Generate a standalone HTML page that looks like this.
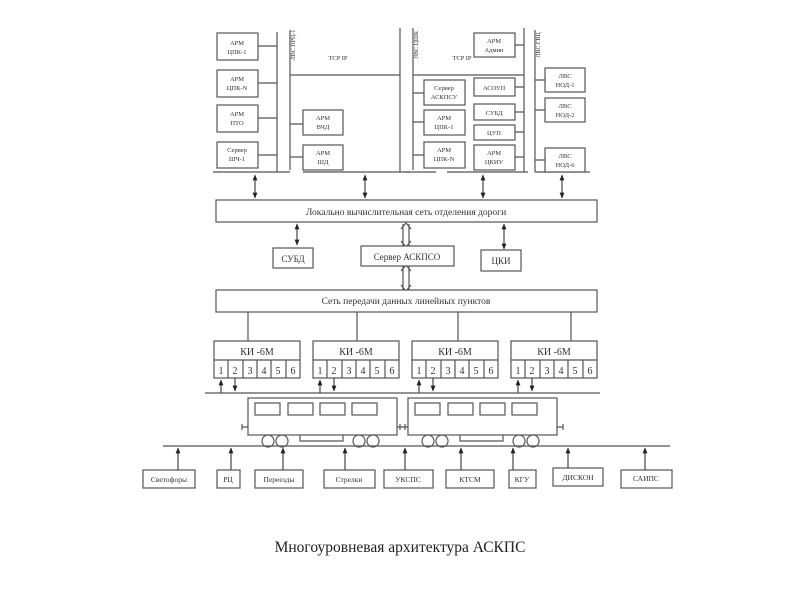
<!DOCTYPE html>
<html><head><meta charset="utf-8"><style>
html,body{margin:0;padding:0;background:#fff;width:800px;height:600px;overflow:hidden}
svg{display:block}
text{font-family:"Liberation Serif",serif;fill:#333}
.b{fill:#fff;stroke:#555;stroke-width:1.2}
.l{stroke:#555;stroke-width:1.2;fill:none}
</style></head><body>
<svg width="800" height="600" viewBox="0 0 800 600">
<defs>
<marker id="a" viewBox="0 0 10 10" refX="9" refY="5" markerWidth="6" markerHeight="6" orient="auto-start-reverse"><path d="M0,1L10,5L0,9z" fill="#222"/></marker>
</defs>
<g font-size="6.5" text-anchor="middle">
<rect class="b" x="217" y="33" width="41" height="27"/><text x="237" y="45">АРМ</text><text x="237" y="54">ЦПК-1</text>
<rect class="b" x="217" y="70" width="41" height="27"/><text x="237" y="81">АРМ</text><text x="237" y="90">ЦПК-N</text>
<rect class="b" x="217" y="105" width="41" height="27"/><text x="237" y="116">АРМ</text><text x="237" y="125">ПТО</text>
<rect class="b" x="217" y="142" width="41" height="26"/><text x="237" y="152">Сервер</text><text x="237" y="161">ШЧ-1</text>
<path class="l" d="M277,32V172M258,46H277M258,83H277M258,118H277M258,155H277"/>
<path class="l" d="M290,30V170M290,75H400M400,28V172M290,124H303M290,157H303"/>
<text x="295" y="45" transform="rotate(-90 295 45)" font-size="6">ЛВС ПРЦ-1</text>
<text x="338" y="60">TCP IP</text>
<rect class="b" x="303" y="110" width="40" height="25"/><text x="323" y="120">АРМ</text><text x="323" y="129">ВЧД</text>
<rect class="b" x="303" y="145" width="40" height="25"/><text x="323" y="155">АРМ</text><text x="323" y="164">ШД</text>
<path class="l" d="M213,172H290M303,172H410"/>
<path class="l" d="M413,28V170M413,75H524M524,28V172M413,93H424M413,122H424M413,155H424M515,45H524M515,87H524M515,112H524M515,132H524M515,157H524"/>
<text x="418" y="45" transform="rotate(-90 418 45)" font-size="6">ЛВС ЦШК</text>
<text x="462" y="60">TCP IP</text>
<rect class="b" x="474" y="33" width="41" height="24"/><text x="494" y="43">АРМ</text><text x="494" y="52">Админ</text>
<rect class="b" x="424" y="80" width="41" height="25"/><text x="444" y="90">Сервер</text><text x="444" y="99">АСКПСУ</text>
<rect class="b" x="424" y="110" width="41" height="25"/><text x="444" y="120">АРМ</text><text x="444" y="129">ЦПК-1</text>
<rect class="b" x="424" y="142" width="41" height="26"/><text x="444" y="152">АРМ</text><text x="444" y="161">ЦПК-N</text>
<rect class="b" x="474" y="78" width="41" height="18"/><text x="494" y="90">АСОУП</text>
<rect class="b" x="474" y="104" width="41" height="16"/><text x="494" y="115">СУБД</text>
<rect class="b" x="474" y="125" width="41" height="15"/><text x="494" y="135">ЦУП</text>
<rect class="b" x="474" y="145" width="41" height="25"/><text x="494" y="155">АРМ</text><text x="494" y="164">ЦКИУ</text>
<path class="l" d="M405,172H436M447,172H528"/>
<path class="l" d="M535,30V172M535,80H545M535,110H545M535,160H545M535,172H590"/>
<text x="540" y="45" transform="rotate(-90 540 45)" font-size="6">ЛВС ГВЦ</text>
<rect class="b" x="545" y="68" width="40" height="24"/><text x="565" y="78">ЛВС</text><text x="565" y="87">НОД-1</text>
<rect class="b" x="545" y="98" width="40" height="24"/><text x="565" y="108">ЛВС</text><text x="565" y="117">НОД-2</text>
<rect class="b" x="545" y="148" width="40" height="24"/><text x="565" y="158">ЛВС</text><text x="565" y="167">НОД-6</text>
</g>
<g stroke="#222" stroke-width="1">
<path d="M255,175V198" marker-start="url(#a)" marker-end="url(#a)"/>
<path d="M365,175V198" marker-start="url(#a)" marker-end="url(#a)"/>
<path d="M483,175V198" marker-start="url(#a)" marker-end="url(#a)"/>
<path d="M562,175V198" marker-start="url(#a)" marker-end="url(#a)"/>
</g>
<rect class="b" x="216" y="200" width="381" height="22"/>
<text x="406" y="215" font-size="9.5" text-anchor="middle">Локально вычислительная сеть отделения дороги</text>
<path d="M297,224V245" stroke="#222" marker-start="url(#a)" marker-end="url(#a)"/>
<path d="M504,224V249" stroke="#222" marker-start="url(#a)" marker-end="url(#a)"/>
<path class="l" d="M403,224V246M409,224V246M403,266V290M409,266V290M401,229L406,223L411,229M401,241L406,247L411,241M401,271L406,265L411,271M401,285L406,291L411,285"/>
<rect class="b" x="273" y="248" width="40" height="20"/><text x="293" y="262" font-size="9" text-anchor="middle">СУБД</text>
<rect class="b" x="361" y="246" width="93" height="20"/><text x="407" y="260" font-size="9" text-anchor="middle">Сервер АСКПСО</text>
<rect class="b" x="481" y="250" width="40" height="21"/><text x="501" y="264" font-size="9" text-anchor="middle">ЦКИ</text>
<rect class="b" x="216" y="290" width="381" height="22"/>
<text x="406" y="304" font-size="9.5" text-anchor="middle">Сеть передачи данных линейных пунктов</text>
<path class="l" d="M248,312V341M357,312V341M458,312V341M571,312V341"/>
<g font-size="10" text-anchor="middle">
<g id="k"><rect class="b" x="214" y="341" width="86" height="37"/><path class="l" d="M214,360H300M228,360V378M243,360V378M257,360V378M271,360V378M286,360V378"/>
<text x="257" y="355">КИ -6М</text><text x="221" y="374">1</text><text x="235" y="374">2</text><text x="250" y="374">3</text><text x="264" y="374">4</text><text x="278" y="374">5</text><text x="293" y="374">6</text>
<path d="M221,393V380" stroke="#222" marker-end="url(#a)"/><path d="M235,378V391" stroke="#222" marker-end="url(#a)"/></g>
<use href="#k" x="99"/><use href="#k" x="198"/><use href="#k" x="297"/>
</g>
<path class="l" d="M205,393H600"/>
<g id="c"><rect class="b" x="248" y="398" width="149" height="37"/>
<rect class="b" x="255" y="403" width="25" height="12"/><rect class="b" x="288" y="403" width="25" height="12"/><rect class="b" x="320" y="403" width="25" height="12"/><rect class="b" x="352" y="403" width="25" height="12"/>
<circle class="b" cx="268" cy="441" r="6"/><circle class="b" cx="282" cy="441" r="6"/><circle class="b" cx="359" cy="441" r="6"/><circle class="b" cx="373" cy="441" r="6"/>
<path class="l" d="M300,435V441H343V435"/></g>
<use href="#c" x="160"/>
<path class="l" d="M242,427H248M242,424V430M397,427H408M400,424V430M405,424V430M557,427H563M563,424V430"/>
<path class="l" d="M163,446H670"/>
<g font-size="7.5" text-anchor="middle">
<rect class="b" x="143" y="470" width="52" height="18"/><text x="169" y="482">Светофоры</text>
<rect class="b" x="217" y="470" width="23" height="18"/><text x="228" y="482">РЦ</text>
<rect class="b" x="255" y="470" width="48" height="18"/><text x="279" y="482">Переезды</text>
<rect class="b" x="324" y="470" width="51" height="18"/><text x="349" y="482">Стрелки</text>
<rect class="b" x="384" y="470" width="49" height="18"/><text x="408" y="482">УКСПС</text>
<rect class="b" x="446" y="470" width="48" height="18"/><text x="470" y="482">КТСМ</text>
<rect class="b" x="509" y="470" width="27" height="18"/><text x="522" y="482">КГУ</text>
<rect class="b" x="553" y="468" width="50" height="18"/><text x="578" y="480">ДИСКОН</text>
<rect class="b" x="621" y="470" width="51" height="18"/><text x="646" y="481">САИПС</text>
</g>
<g stroke="#222">
<path d="M178,470V448" marker-end="url(#a)"/><path d="M231,470V448" marker-end="url(#a)"/><path d="M283,470V448" marker-end="url(#a)"/><path d="M345,470V448" marker-end="url(#a)"/><path d="M405,470V448" marker-end="url(#a)"/><path d="M461,470V448" marker-end="url(#a)"/><path d="M513,470V448" marker-end="url(#a)"/><path d="M568,468V448" marker-end="url(#a)"/><path d="M645,470V448" marker-end="url(#a)"/>
</g>
<text x="400" y="552" font-size="15.5" text-anchor="middle" style="fill:#222">Многоуровневая архитектура АСКПС</text>
</svg>
</body></html>
